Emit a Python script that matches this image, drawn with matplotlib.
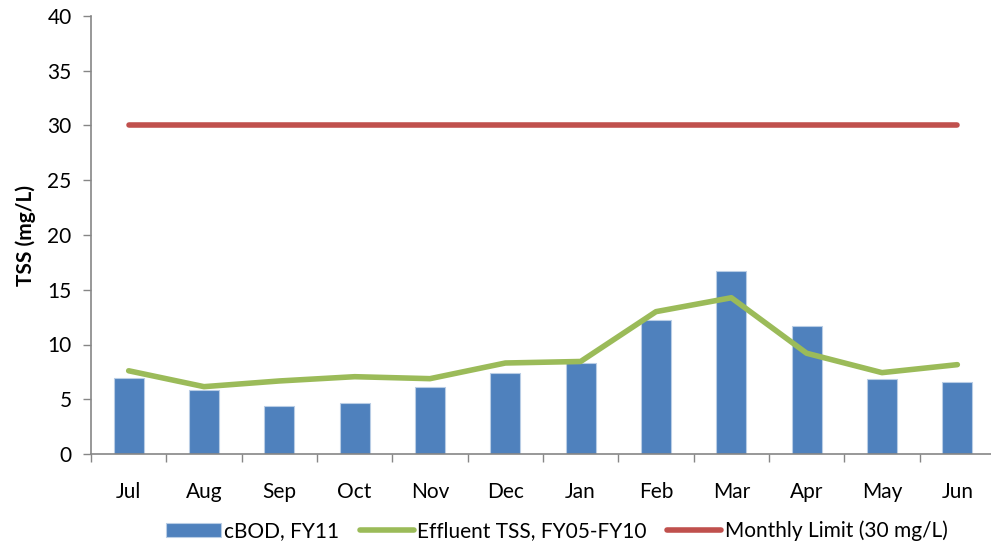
import matplotlib
matplotlib.use("Agg")
import matplotlib.pyplot as plt
import numpy as np

months = ["Jul", "Aug", "Sep", "Oct", "Nov", "Dec", "Jan", "Feb", "Mar", "Apr", "May", "Jun"]
cbod_fy11 = [6.9, 5.87, 4.41, 4.63, 6.09, 7.43, 8.31, 12.2, 16.7, 11.66, 6.82, 6.55]
effluent_tss = [7.6, 6.15, 6.67, 7.06, 6.88, 8.31, 8.45, 13.0, 14.27, 9.2, 7.43, 8.16]
monthly_limit = [30] * 12
yticks = [0, 5, 10, 15, 20, 25, 30, 35, 40]

plt.rcParams['font.family'] = ['Lato', 'DejaVu Sans']

fig = plt.figure(figsize=(9.91, 5.5), dpi=100)
ax = fig.add_axes([91/991, 1-454/550, (995-91)/991, (454-16)/550])

x = np.arange(len(months))
bars = ax.bar(x, cbod_fy11, width=0.4, color="#4F81BD", edgecolor="#B9CDE5", linewidth=0.8,
              label="cBOD, FY11", zorder=2)
l1, = ax.plot(x, effluent_tss, color="#9BBB59", linewidth=4, solid_capstyle="round",
              solid_joinstyle="round", label="Effluent TSS, FY05-FY10", zorder=3)
l2, = ax.plot(x, monthly_limit, color="#C0504D", linewidth=4, solid_capstyle="round",
              label="Monthly Limit (30 mg/L)", zorder=3)

ax.set_xlim(-0.5, len(months) - 0.5)
ax.set_ylim(0, 40)
ax.set_yticks(yticks)
ax.set_yticklabels([str(v) for v in yticks], fontsize=15)
ax.set_xticks(x)
ax.set_xticklabels(months, fontsize=15)
ax.tick_params(axis='x', which='major', length=0, pad=20)
ax.set_xticks(np.arange(-0.5, len(months), 1.0), minor=True)
ax.tick_params(axis='x', which='minor', length=6, width=1, color="#868686", direction='out')
ax.tick_params(axis='y', length=6, width=1, color="#868686", direction='out', pad=8)

for s in ['top', 'right']:
    ax.spines[s].set_visible(False)
for s in ['left', 'bottom']:
    ax.spines[s].set_color("#868686")
    ax.spines[s].set_linewidth(1.2)

ax.set_ylabel("TSS (mg/L)", fontsize=15, fontweight='bold', labelpad=8)

leg = fig.legend(handles=[bars, l1, l2], loc='center', bbox_to_anchor=(0.562, 1-531/550), ncol=3,
                 frameon=False, fontsize=15, handlelength=2.6, handletextpad=0.15, columnspacing=1.0)

fig.savefig("out.png", dpi=100)
